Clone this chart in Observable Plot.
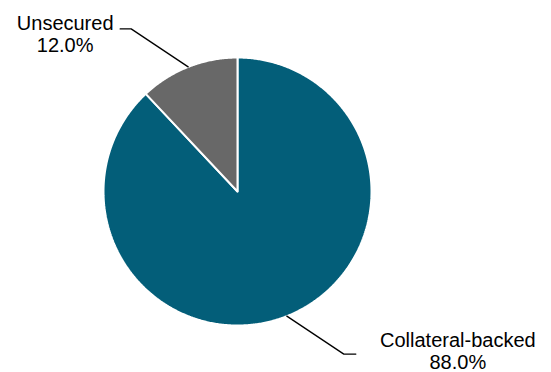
<!DOCTYPE html>
<html><head><meta charset="utf-8">
<script src="https://cdn.jsdelivr.net/npm/d3@7"></script>
<script src="https://cdn.jsdelivr.net/npm/@observablehq/plot@0.6"></script>
<style>body{margin:0;background:#fff}</style>
</head><body><div id="chart"></div>
<script>
// ---- data ----
const categories = ["Collateral-backed", "Unsecured"];
const shares = [88.0, 12.0];
const sliceColors = ["#035e79", "#686868"];

// ---- layout (pixels) ----
const W = 551, H = 372, cx = 237, cy = 191, R = 134;
// label layout offsets relative to the slice mid-point on the rim (px)
const labelLayout = {
  "Collateral-backed": {elbow: [57, 38], end: [69, 38], text: [171, 15]},
  "Unsecured": {elbow: [-57, -38], end: [-68, -38], text: [-123, -53]}
};

const pie = d3.pie().sort(null).value(d => d.share)(
  categories.map((c, i) => ({category: c, share: shares[i]}))
);

// slice polygons in unit-circle data coordinates
const slicePts = [];
pie.forEach(p => {
  const cat = p.data.category;
  const n = Math.max(2, Math.ceil((p.endAngle - p.startAngle) / (Math.PI / 360)));
  slicePts.push({cat, x: 0, y: 0});
  for (let k = 0; k <= n; k++) {
    const a = p.startAngle + (p.endAngle - p.startAngle) * k / n;
    slicePts.push({cat, x: Math.sin(a), y: Math.cos(a)});
  }
  slicePts.push({cat, x: 0, y: 0});
});

const px = d => d / R; // pixel -> data units
const leaderPts = [];
const labels = [];
pie.forEach(p => {
  const cat = p.data.category;
  const m = (p.startAngle + p.endAngle) / 2;
  const x0 = Math.sin(m), y0 = Math.cos(m);
  const L = labelLayout[cat];
  leaderPts.push({cat, x: x0, y: y0});
  leaderPts.push({cat, x: x0 + px(L.elbow[0]), y: y0 - px(L.elbow[1])});
  leaderPts.push({cat, x: x0 + px(L.end[0]), y: y0 - px(L.end[1])});
  labels.push({
    text: `${cat}\n${p.data.share.toFixed(1)}%`,
    x: x0 + px(L.text[0]), y: y0 - px(L.text[1])
  });
});

const chart = Plot.plot({
  width: W, height: H, margin: 0,
  style: {fontFamily: "'Liberation Sans', Arial, sans-serif", background: "#fff"},
  x: {domain: [-1, 1], range: [cx - R, cx + R], axis: null},
  y: {domain: [-1, 1], range: [cy + R, cy - R], axis: null},
  color: {domain: categories, range: sliceColors},
  marks: [
    Plot.line(slicePts, {x: "x", y: "y", z: "cat", fill: "cat", stroke: "white", strokeWidth: 2, curve: "linear", strokeLinejoin: "miter"}),
    Plot.line(leaderPts, {x: "x", y: "y", z: "cat", stroke: "#000", strokeWidth: 1.3}),
    Plot.text(labels, {x: "x", y: "y", text: "text", fontSize: 20, lineHeight: 1.12, lineAnchor: "top", textAnchor: "middle", fill: "#000"})
  ]
});
document.getElementById("chart").appendChild(chart);
</script>
</body></html>
